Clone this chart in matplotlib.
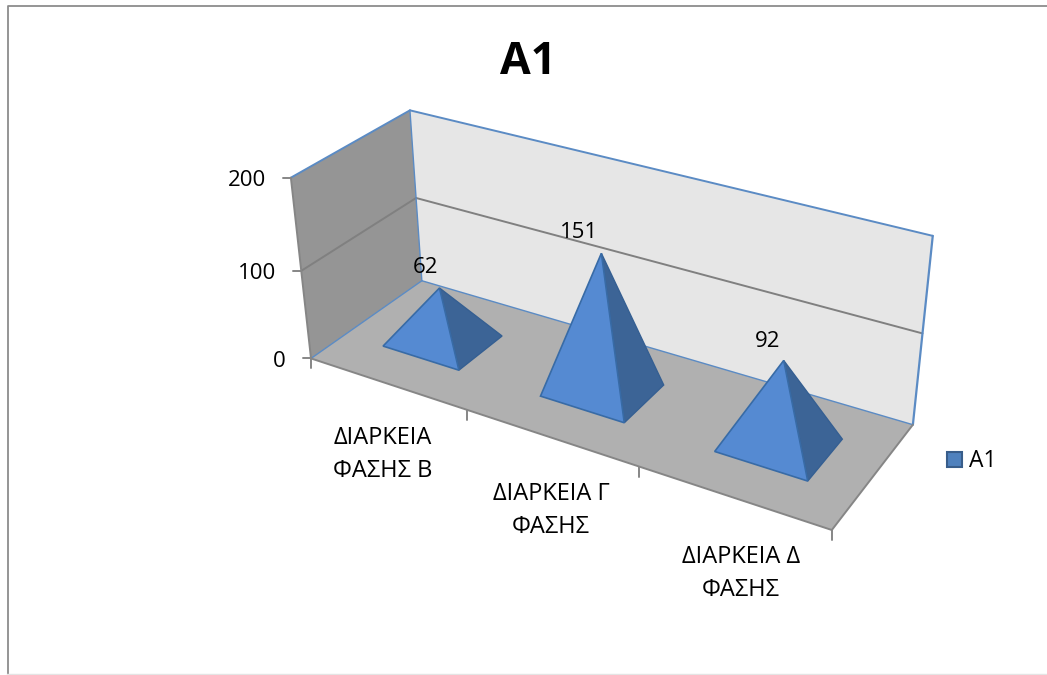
import numpy as np
import matplotlib
matplotlib.use('Agg')
import matplotlib.pyplot as plt
from matplotlib.patches import Polygon, Rectangle

plt.rcParams['font.family'] = ['Open Sans', 'Noto Sans', 'DejaVu Sans']

title = 'A1'
categories = ['ΔΙΑΡΚΕΙΑ\nΦΑΣΗΣ Β', 'ΔΙΑΡΚΕΙΑ Γ\nΦΑΣΗΣ', 'ΔΙΑΡΚΕΙΑ Δ\nΦΑΣΗΣ']
values = [62, 151, 92]
yticks = [0, 100, 200]

# box corners (cat, depth, value) and where they land on the image, for the camera fit
world = [(0, 0, 0), (0, 1, 0), (3, 1, 0), (3, 0, 0), (0, 0, 200), (0, 1, 200), (3, 1, 200),
         (0, 0, 100), (0, 1, 100), (3, 1, 100)]
image = [(311, 358), (422, 281), (913, 425), (832, 530), (291, 178), (410, 110), (933, 236),
         (301, 271), (416, 198), (922, 333)]

rows = []
rhs = []
for (a, b, c), (u, v) in zip(world, image):
    rows.append([a, b, c, 1, 0, 0, 0, 0, -u * a, -u * b, -u * c])
    rows.append([0, 0, 0, 0, a, b, c, 1, -v * a, -v * b, -v * c])
    rhs += [u, v]
cam = np.linalg.lstsq(np.array(rows, float), np.array(rhs, float), rcond=None)[0]
cam = np.append(cam, 1).reshape(3, 4)


def proj(a, b, c):
    p = cam @ np.array([a, b, c, 1.0])
    return p[0] / p[2], p[1] / p[2]


fig = plt.figure(figsize=(10.47, 6.75), dpi=100)
ax = fig.add_axes([0, 0, 1, 1])
ax.set_xlim(0, 1047)
ax.set_ylim(675, 0)
ax.axis('off')

# chart frame
ax.plot([1047, 7.5, 7.5], [5.5, 5.5, 674], color='#8c8c8c', lw=1.3)
ax.plot([7, 1047], [674, 674], color='#e4e4e4', lw=1)

ymax = yticks[-1]
ncat = len(categories)
blue = '#5b8bc4'
grey = '#868686'

# walls and floor
back = [proj(0, 1, 0), proj(ncat, 1, 0), proj(ncat, 1, ymax), proj(0, 1, ymax)]
left = [proj(0, 0, 0), proj(0, 1, 0), proj(0, 1, ymax), proj(0, 0, ymax)]
floor = [proj(0, 0, 0), proj(ncat, 0, 0), proj(ncat, 1, 0), proj(0, 1, 0)]
ax.add_patch(Polygon(back, fc='#e6e6e6', ec='none'))
ax.add_patch(Polygon(left, fc='#959595', ec='none'))
ax.add_patch(Polygon(floor, fc='#b0b0b0', ec='none'))


def seg(p, q, color, lw=1.4):
    ax.plot([p[0], q[0]], [p[1], q[1]], color=color, lw=lw, solid_capstyle='round')


# grid lines
for t in yticks[1:-1]:
    seg(proj(0, 0, t), proj(0, 1, t), '#808080')
    seg(proj(0, 1, t), proj(ncat, 1, t), '#808080')

# wall outlines
seg(proj(0, 0, ymax), proj(0, 1, ymax), blue)
seg(proj(0, 1, ymax), proj(ncat, 1, ymax), blue)
seg(proj(ncat, 1, ymax), proj(ncat, 1, 0), blue, 1.6)
seg(proj(0, 1, ymax), proj(0, 1, 0), blue, 1)
seg(proj(0, 1, 0), proj(ncat, 1, 0), blue, 1)
seg(proj(0, 0, 0), proj(0, 1, 0), blue, 1)
seg(proj(0, 0, 0), proj(0, 0, ymax), grey)
seg(proj(0, 0, 0), proj(ncat, 0, 0), grey)
seg(proj(ncat, 0, 0), proj(ncat, 1, 0), grey)

# y axis ticks and labels
for t in yticks:
    x, y = proj(0, 0, t)
    seg((x - 8, y), (x, y), grey)
    ax.text(x - 25, y + 3, str(t), ha='right', va='center', fontsize=16, color='black')

# x axis ticks
for i in range(ncat + 1):
    x, y = proj(i, 0, 0)
    seg((x, y), (x, y + 10), grey)

# pyramids, base half width in category / depth units
hw = 0.247
hd = 0.205
val_dx = [-14, -22, -16]
val_dy = [-21, -21, -19]
for i, v in enumerate(values):
    cx = i + 0.5
    fl = proj(cx - hw, 0.5 - hd, 0)
    fr = proj(cx + hw, 0.5 - hd, 0)
    br = proj(cx + hw, 0.5 + hd, 0)
    apex = proj(cx, 0.5, v)
    ax.add_patch(Polygon([fr, br, apex], fc='#3c6496', ec='#355f92', lw=1, zorder=3))
    ax.add_patch(Polygon([fl, fr, apex], fc='#558ad2', ec='#386ba6', lw=1.2, zorder=3))
    ax.text(apex[0] + val_dx[i], apex[1] + val_dy[i], str(v), ha='center', va='center',
            fontsize=16, color='black', zorder=4)

# category labels
lab_dx = [-4, 0, 8]
lab_dy = [71, 73, 76]
for i, c in enumerate(categories):
    x, y = proj(i + 0.5, 0, 0)
    ax.text(x + lab_dx[i], y + lab_dy[i], c, ha='center', va='center', fontsize=17,
            color='black', linespacing=1.5)

ax.text(528, 63, title, ha='center', va='center', fontsize=32, fontweight='bold', color='black')

# legend
ax.add_patch(Rectangle((947, 452), 15, 15, fc='#4f81bd', ec='#385d8a', lw=1.5))
ax.text(969, 461, title, ha='left', va='center', fontsize=16.5, color='black')

fig.savefig('out.png', dpi=100)
